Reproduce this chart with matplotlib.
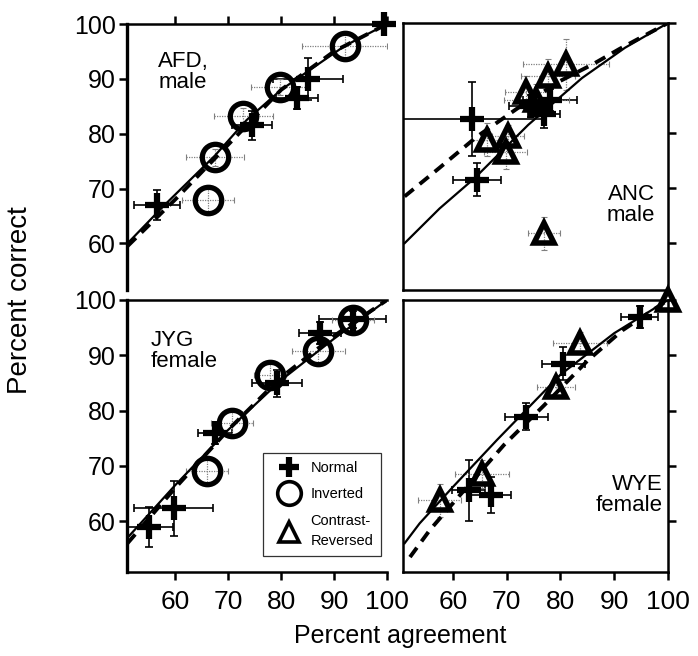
import numpy as np
import matplotlib
matplotlib.use("Agg")
import matplotlib.pyplot as plt
from matplotlib.lines import Line2D

plt.rcParams["font.family"] = ["Liberation Sans", "DejaVu Sans"]

# --- AFD, male ---
afd_normal_x = [56.6, 74.5, 83.0, 85.0, 99.5]
afd_normal_y = [67.0, 81.5, 86.5, 90.0, 100.0]
afd_normal_xerr = [4.3, 3.7, 4.0, 6.6, 0.0]
afd_normal_yerr = [2.7, 2.7, 2.0, 3.8, 0.0]
afd_inv_x = [66.2, 67.5, 72.9, 79.8, 92.0]
afd_inv_y = [67.9, 75.7, 83.2, 88.5, 95.9]
afd_inv_xerr = [5.0, 5.5, 5.5, 5.5, 8.0]
afd_inv_yerr = [2.0, 1.5, 1.5, 1.5, 2.5]
afd_solid_x = [51.0, 58.0, 67.5, 73.5, 80.0, 86.0, 92.0, 100.0]
afd_solid_y = [60.0, 67.0, 76.0, 82.5, 88.0, 92.0, 96.0, 100.0]
afd_dash_x = [51.0, 60.0, 70.0, 80.0, 90.0, 100.0]
afd_dash_y = [59.5, 68.0, 78.0, 88.0, 95.0, 100.0]

# --- ANC, male ---
anc_normal_x = [63.5, 64.5, 74.5, 77.0, 78.0]
anc_normal_y = [82.5, 71.5, 85.0, 83.5, 86.0]
anc_normal_xerr = [13.0, 4.5, 4.0, 3.0, 5.0]
anc_normal_yerr = [6.7, 3.0, 2.0, 2.5, 2.0]
anc_tri_x = [66.4, 69.8, 70.2, 73.6, 75.5, 77.7, 81.1, 77.0]
anc_tri_y = [78.8, 76.5, 79.5, 87.4, 86.0, 90.4, 92.5, 61.8]
anc_tri_xerr = [3.0, 4.0, 3.0, 4.0, 6.0, 5.0, 8.0, 3.0]
anc_tri_yerr = [3.0, 3.0, 2.0, 3.0, 3.0, 3.0, 4.6, 3.0]
anc_solid_x = [51.0, 57.5, 64.0, 74.0, 84.0, 92.0, 100.0]
anc_solid_y = [60.0, 66.3, 71.8, 81.5, 90.0, 95.5, 100.0]
anc_dash_x = [51.0, 57.5, 64.5, 72.0, 80.0, 86.0, 91.0, 100.0]
anc_dash_y = [68.5, 73.7, 79.4, 84.5, 89.5, 92.5, 95.3, 100.0]

# --- JYG, female ---
jyg_normal_x = [55.0, 59.7, 67.5, 79.2, 87.4, 93.5]
jyg_normal_y = [59.0, 62.3, 75.9, 84.9, 94.0, 96.5]
jyg_normal_xerr = [4.6, 7.4, 3.2, 4.7, 4.0, 6.4]
jyg_normal_yerr = [3.6, 5.0, 2.0, 2.5, 2.0, 1.5]
jyg_inv_x = [66.0, 70.7, 77.9, 87.0, 93.6]
jyg_inv_y = [69.0, 77.7, 86.4, 90.7, 96.4]
jyg_inv_xerr = [4.0, 4.0, 3.0, 5.0, 4.0]
jyg_inv_yerr = [2.0, 2.0, 2.0, 2.0, 2.0]
jyg_solid_x = [51.0, 60.0, 70.0, 80.0, 90.0, 100.0]
jyg_solid_y = [57.0, 66.5, 76.5, 85.5, 93.0, 100.0]
jyg_dash_x = [51.0, 60.0, 70.0, 80.0, 90.0, 100.0]
jyg_dash_y = [56.0, 66.0, 76.5, 86.0, 93.5, 100.0]

# --- WYE, female ---
wye_normal_x = [62.9, 67.0, 73.6, 80.5, 94.7]
wye_normal_y = [65.6, 64.7, 78.9, 88.5, 97.0]
wye_normal_xerr = [3.0, 3.8, 4.0, 4.0, 3.5]
wye_normal_yerr = [5.5, 3.3, 2.5, 3.0, 2.0]
wye_tri_x = [57.5, 65.4, 79.2, 83.6, 100.0]
wye_tri_y = [63.8, 68.5, 84.3, 92.2, 100.0]
wye_tri_xerr = [4.0, 5.0, 3.5, 5.0, 0.0]
wye_tri_yerr = [3.0, 2.5, 2.0, 2.0, 0.0]
wye_solid_x = [51.0, 53.8, 60.0, 68.2, 75.0, 80.0, 90.0, 100.0]
wye_solid_y = [56.0, 59.6, 66.2, 74.7, 81.5, 86.5, 94.0, 100.0]
wye_dash_x = [52.0, 55.7, 62.0, 69.5, 77.0, 85.0, 91.5, 100.0]
wye_dash_y = [53.5, 58.4, 65.5, 73.8, 81.0, 89.0, 94.5, 100.0]

ticks = [60, 70, 80, 90, 100]


def draw_errors(ax, x, y, xerr, yerr, dark):
    if dark:
        ax.errorbar(x, y, xerr=xerr, yerr=yerr, fmt="none", ecolor="k",
                    elinewidth=1.2, capsize=3, capthick=1.2)
    else:
        eb = ax.errorbar(x, y, xerr=xerr, yerr=yerr, fmt="none", ecolor="0.5",
                         elinewidth=0.9, capsize=2, capthick=0.8)
        for c in eb.lines[2]:
            c.set_linestyle((0, (1, 1)))


def draw_normal(ax, x, y, xerr, yerr):
    draw_errors(ax, x, y, xerr, yerr, True)
    ax.plot(x, y, "+", ms=17, mew=4.5, color="k", ls="none", clip_on=False, zorder=5)


def draw_inverted(ax, x, y, xerr, yerr):
    draw_errors(ax, x, y, xerr, yerr, False)
    ax.plot(x, y, "o", ms=19, mew=3.8, mfc="none", mec="k", ls="none",
            clip_on=False, zorder=5)


def draw_contrast(ax, x, y, xerr, yerr):
    draw_errors(ax, x, y, xerr, yerr, False)
    ax.plot(x, y, "^", ms=15, mew=4, mfc="none", mec="k", ls="none",
            clip_on=False, zorder=5)


def draw_fits(ax, sx, sy, dx, dy):
    ax.plot(sx, sy, "-", color="k", lw=1.6, zorder=3)
    ax.plot(dx, dy, "--", color="k", lw=2.8, dashes=(3, 2), zorder=3)


fig = plt.figure(figsize=(6.98, 6.56), dpi=100)
W, H = 698.0, 656.0


def make_ax(x0, x1, y0, y1):
    return fig.add_axes([x0 / W, 1 - y1 / H, (x1 - x0) / W, (y1 - y0) / H])


ax_afd = make_ax(127, 387, 24, 290)
ax_anc = make_ax(403, 668, 23, 290)
ax_jyg = make_ax(127, 387, 300, 572)
ax_wye = make_ax(403, 668, 300, 572)

ax_afd.set_xlim(50.9, 100)
ax_jyg.set_xlim(50.9, 100)
ax_anc.set_xlim(50.7, 100)
ax_wye.set_xlim(50.7, 100)
ax_afd.set_ylim(51.5, 100)
ax_anc.set_ylim(51.5, 100)
ax_jyg.set_ylim(50.8, 100)
ax_wye.set_ylim(50.8, 100)

for ax in (ax_afd, ax_anc, ax_jyg, ax_wye):
    for s in ax.spines.values():
        s.set_linewidth(1.8)
    ax.set_xticks(ticks)
    ax.set_yticks(ticks)
    ax.tick_params(direction="out", length=6, width=1.8, labelsize=18, pad=2)
    ax.tick_params(axis="x", pad=7, labelsize=19)

# top-left: ticks on top and left
ax_afd.spines["right"].set_visible(False)
ax_afd.spines["bottom"].set_visible(False)
ax_afd.spines["left"].set_linewidth(2.4)
ax_afd.tick_params(bottom=False, labelbottom=False, top=True, left=True)
# top-right: ticks on right only
ax_anc.tick_params(bottom=False, labelbottom=False, left=False, labelleft=False,
                   right=True)
# bottom-left
ax_jyg.spines["right"].set_visible(False)
ax_jyg.spines["left"].set_linewidth(2.4)
# bottom-right
ax_wye.tick_params(left=False, labelleft=False, right=True)

draw_fits(ax_afd, afd_solid_x, afd_solid_y, afd_dash_x, afd_dash_y)
draw_normal(ax_afd, afd_normal_x, afd_normal_y, afd_normal_xerr, afd_normal_yerr)
draw_inverted(ax_afd, afd_inv_x, afd_inv_y, afd_inv_xerr, afd_inv_yerr)

draw_fits(ax_anc, anc_solid_x, anc_solid_y, anc_dash_x, anc_dash_y)
draw_normal(ax_anc, anc_normal_x, anc_normal_y, anc_normal_xerr, anc_normal_yerr)
draw_contrast(ax_anc, anc_tri_x, anc_tri_y, anc_tri_xerr, anc_tri_yerr)

draw_fits(ax_jyg, jyg_solid_x, jyg_solid_y, jyg_dash_x, jyg_dash_y)
draw_normal(ax_jyg, jyg_normal_x, jyg_normal_y, jyg_normal_xerr, jyg_normal_yerr)
draw_inverted(ax_jyg, jyg_inv_x, jyg_inv_y, jyg_inv_xerr, jyg_inv_yerr)

draw_fits(ax_wye, wye_solid_x, wye_solid_y, wye_dash_x, wye_dash_y)
draw_normal(ax_wye, wye_normal_x, wye_normal_y, wye_normal_xerr, wye_normal_yerr)
draw_contrast(ax_wye, wye_tri_x, wye_tri_y, wye_tri_xerr, wye_tri_yerr)

# panel labels
ax_afd.text(56.8, 95.0, "AFD,\nmale", fontsize=16, va="top", ha="left", linespacing=1.0)
ax_anc.text(97.5, 70.8, "ANC\nmale", fontsize=16, va="top", ha="right", linespacing=1.0)
ax_jyg.text(55.4, 94.5, "JYG\nfemale", fontsize=16, va="top", ha="left", linespacing=1.0)
ax_wye.text(99.0, 68.5, "WYE\nfemale", fontsize=16, va="top", ha="right", linespacing=1.0)

# legend
handles = [
    Line2D([], [], marker="+", ms=15, mew=4.5, color="k", ls="none"),
    Line2D([], [], marker="o", ms=17, mew=2.6, mfc="none", mec="k", ls="none"),
    Line2D([], [], marker="^", ms=15, mew=2.6, mfc="none", mec="k", ls="none"),
]
leg = fig.legend(handles, ["Normal", "Inverted", "Contrast-\nReversed"],
                 loc="upper left", bbox_to_anchor=(263 / W, 1 - 453 / H),
                 fontsize=10.5, frameon=True, fancybox=False, edgecolor="k",
                 handletextpad=0.3, borderpad=0.55, labelspacing=0.85,
                 handlelength=2.4, borderaxespad=0)
leg.get_frame().set_linewidth(0.9)
leg.get_texts()[2].set_linespacing(1.6)

fig.text(20 / W, 1 - 300 / H, "Percent correct", rotation=90, fontsize=20,
         ha="center", va="center")
fig.text(400 / W, 1 - 636 / H, "Percent agreement", fontsize=18,
         ha="center", va="center")

fig.savefig("out.png", dpi=100)
